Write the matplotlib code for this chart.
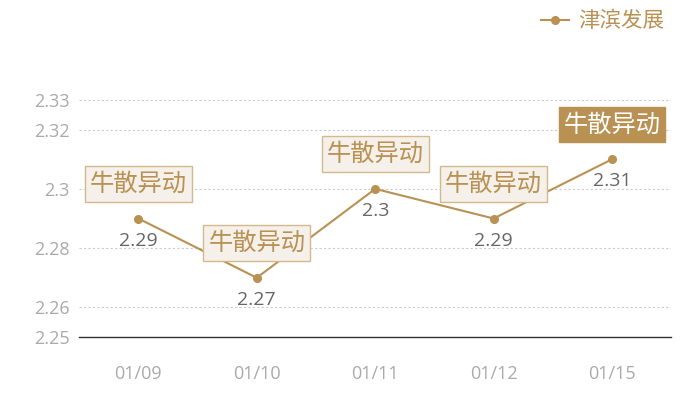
import matplotlib
matplotlib.use('Agg')
import matplotlib.pyplot as plt

plt.rcParams['font.family'] = ['Open Sans', 'Noto Sans CJK SC', 'DejaVu Sans']

# data
dates = ['01/09', '01/10', '01/11', '01/12', '01/15']
values = [2.29, 2.27, 2.30, 2.29, 2.31]
tags = ['牛散异动', '牛散异动', '牛散异动', '牛散异动', '牛散异动']
series_name = '津滨发展'
yticks = [2.25, 2.26, 2.28, 2.3, 2.32, 2.33]

gold = '#b99153'
grey_txt = '#aaaaaa'

fig = plt.figure(figsize=(7, 4), dpi=100)
ax = fig.add_axes([0.113, 0.1575, 0.846, 0.5925])

x = list(range(len(dates)))
ax.plot(x, values, '-o', color=gold, lw=1.5, ms=5.5, label=series_name, zorder=3)

ax.set_xlim(-0.5, len(dates) - 0.5)
ax.set_ylim(2.25, 2.33)
ax.set_yticks(yticks)
ax.set_yticklabels(['%g' % v for v in yticks])
ax.set_xticks(x)
ax.set_xticklabels(dates)
ax.tick_params(axis='both', length=0, labelsize=13, colors=grey_txt)
ax.tick_params(axis='x', pad=20)
ax.tick_params(axis='y', pad=7)

for s in ['top', 'right', 'left']:
    ax.spines[s].set_visible(False)
ax.spines['bottom'].set_color('#333333')
ax.spines['bottom'].set_linewidth(1)
ax.grid(axis='y', color='#cccccc', linestyle=(0, (2, 2)), linewidth=0.8)
ax.set_axisbelow(True)

# value labels and event tags
for i, (v, t) in enumerate(zip(values, tags)):
    ax.annotate('%g' % v, (i, v), xytext=(0, -16), textcoords='offset points',
                ha='center', va='center', fontsize=14, color='#666666', zorder=4)
    last = i == len(values) - 1
    ax.annotate(t, (i, v), xytext=(0, 25), textcoords='offset points',
                ha='center', va='center', fontsize=17.5,
                family=['Noto Sans CJK SC'],
                color='white' if last else gold, zorder=5,
                bbox=dict(boxstyle='square,pad=0.2',
                          facecolor=gold if last else '#f5f0ea',
                          edgecolor=gold if last else '#d4b88e', lw=1))

leg = ax.legend(loc='upper right', bbox_to_anchor=(1.02, 1.46), frameon=False,
                prop={'family': ['Noto Sans CJK SC'], 'size': 15.5},
                handlelength=1.3, handletextpad=0.4)
for txt in leg.get_texts():
    txt.set_color(gold)

fig.savefig('out.png', dpi=100)
